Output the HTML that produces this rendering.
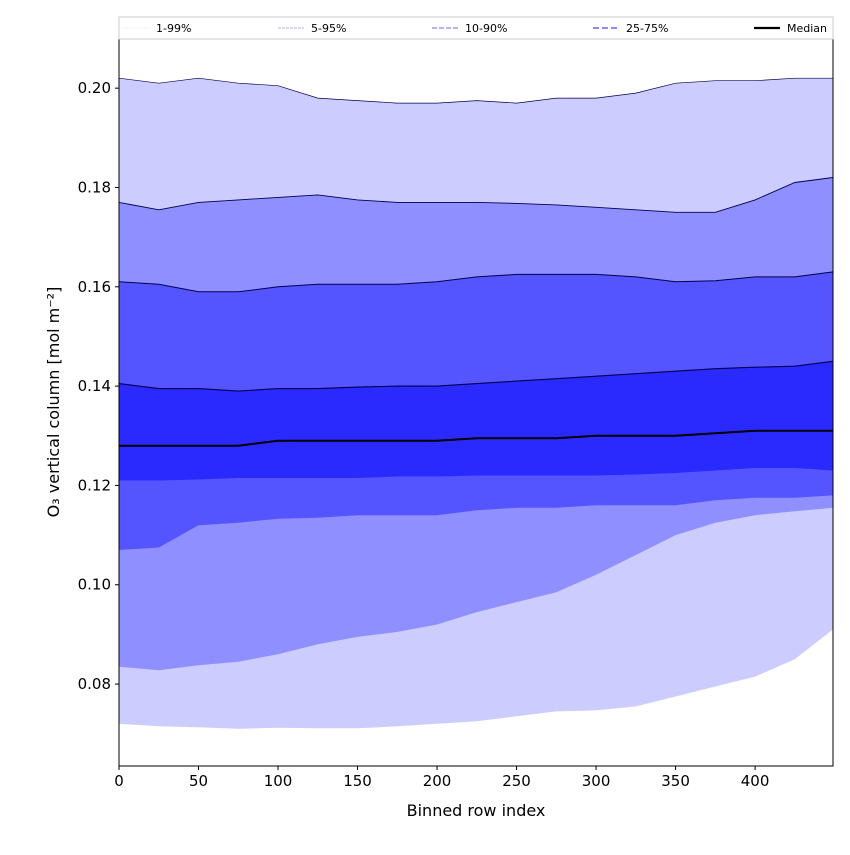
<!DOCTYPE html>
<html><head><meta charset="utf-8"><style>
body{margin:0;background:#fff;}
svg text{font-family:"DejaVu Sans","Liberation Sans",sans-serif;}
</style></head><body>
<svg id="c" width="850" height="850" xmlns="http://www.w3.org/2000/svg"></svg>
<script>
const xs=[0,25,50,75,100,125,150,175,200,225,250,275,300,325,350,375,400,425,449];
const p99=[.202,.201,.202,.201,.2005,.198,.1975,.197,.197,.1975,.197,.198,.198,.199,.201,.2015,.2015,.202,.202];
const p95=[.177,.1755,.177,.1775,.178,.1785,.1775,.177,.177,.177,.1768,.1765,.176,.1755,.175,.175,.1775,.181,.182];
const p90=[.161,.1605,.159,.159,.160,.1605,.1605,.1605,.161,.162,.1625,.1625,.1625,.162,.161,.1612,.162,.162,.163];
const p75=[.1405,.1395,.1395,.139,.1395,.1395,.1398,.140,.140,.1405,.141,.1415,.142,.1425,.143,.1435,.1438,.144,.145];
const med=[.128,.128,.128,.128,.129,.129,.129,.129,.129,.1295,.1295,.1295,.130,.130,.130,.1305,.131,.131,.131];
const p25=[.121,.121,.1212,.1215,.1215,.1215,.1215,.1218,.1218,.122,.122,.122,.122,.1222,.1225,.123,.1235,.1235,.123];
const p10=[.107,.1075,.112,.1125,.1133,.1135,.114,.114,.114,.115,.1155,.1155,.116,.116,.116,.117,.1175,.1175,.118];
const p5=[.0835,.0828,.0838,.0845,.086,.088,.0895,.0905,.092,.0945,.0965,.0985,.102,.106,.110,.1125,.114,.1148,.1155];
const p1=[.072,.0715,.0713,.071,.0712,.0711,.0711,.0715,.072,.0725,.0735,.0745,.0747,.0755,.0775,.0795,.0815,.085,.091];
const xTicks=[0,50,100,150,200,250,300,350,400];
const yTicks=[0.08,0.10,0.12,0.14,0.16,0.18,0.20];
const L=119,R=833,T=39,B=766,X0=0,X1=449,Y0=0.0635,Y1=0.2099;
const sx=v=>L+(v-X0)/(X1-X0)*(R-L), sy=v=>B-(v-Y0)/(Y1-Y0)*(B-T);
const svg=document.getElementById('c');const NS='http://www.w3.org/2000/svg';
function mk(t,a,p){const e=document.createElementNS(NS,t);for(const k in a)e.setAttribute(k,a[k]);(p||svg).appendChild(e);return e;}
function pts(a){return xs.map((x,i)=>sx(x).toFixed(1)+','+sy(a[i]).toFixed(1));}
function band(lo,hi,col,name){const d='M'+pts(hi).join('L')+'L'+pts(lo).reverse().join('L')+'Z';
 const e=mk('path',{d:d,fill:col});
 
 }
band(p1,p99,'#ccccff','band-1-99');
band(p5,p95,'#8f8fff','band-5-95');
band(p10,p90,'#5555ff','band-10-90');
band(p25,p75,'#2a2aff','band-25-75');
[[p99,0.7],[p95,0.9],[p90,1],[p75,1.1]].forEach(([a,w],i)=>{
 const e=mk('polyline',{points:pts(a).join(' '),fill:'none',stroke:'#000050','stroke-width':w});
 
 });
const m=mk('polyline',{points:pts(med).join(' '),fill:'none',stroke:'#000','stroke-width':2});


mk('rect',{x:L,y:T,width:R-L,height:B-T,fill:'none',stroke:'#000','stroke-width':1});
xTicks.forEach(v=>{const x=sx(v);mk('line',{x1:x,x2:x,y1:B,y2:B+4,stroke:'#000'});
 const t=mk('text',{x:x,y:B+20,'text-anchor':'middle','font-size':15});t.textContent=v;
 
 });
yTicks.forEach(v=>{const y=sy(v);mk('line',{x1:L-4,x2:L,y1:y,y2:y,stroke:'#000'});
 const t=mk('text',{x:L-8,y:y+5,'text-anchor':'end','font-size':15});t.textContent=v.toFixed(2);
 
 });
const xt=mk('text',{x:(L+R)/2,y:816,'text-anchor':'middle','font-size':16});xt.textContent='Binned row index';


const yt=mk('text',{x:0,y:0,'text-anchor':'middle','font-size':16,transform:'translate(59,402) rotate(-90)'});yt.textContent='O₃ vertical column [mol m⁻²]';


const lg=mk('g',{});


mk('rect',{x:L,y:17,width:R-L,height:22,fill:'#fff',stroke:'#ccc'},lg);
const items=[['1-99%','#ddddff',0.6,'2,1',123],['5-95%','#9999ee',0.8,'3,1',278],['10-90%','#8888ee',1.2,'5,2',432],['25-75%','#6666ff',1.6,'6,3',593],['Median','#000',2.2,'',754]];
items.forEach(([lab,c,w,da,x])=>{
 const g=mk('g',{},lg);
 
 
 mk('line',{x1:x,x2:x+26,y1:28,y2:28,stroke:c,'stroke-width':w,'stroke-dasharray':da},g);
 const t=mk('text',{x:x+33,y:32,'font-size':11},g);t.textContent=lab;});
</script>
</body></html>
